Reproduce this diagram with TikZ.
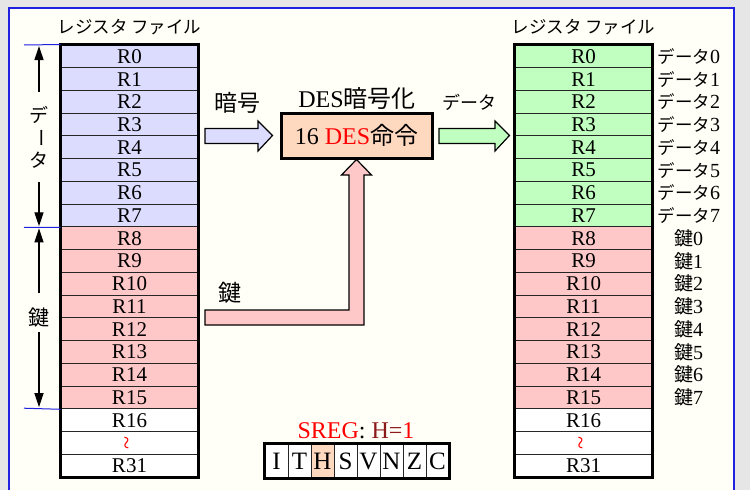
\documentclass[tikz,border=0pt]{standalone}
\usepackage{fontspec}
\setmainfont{Liberation Serif}
\newfontfamily\jp{Noto Sans CJK JP}
\usetikzlibrary{arrows.meta,calc}
\definecolor{bggray}{HTML}{E6E6E6}
\definecolor{panelc}{HTML}{FFFFF7}
\definecolor{lav}{HTML}{DCDCFF}
\definecolor{pinkc}{HTML}{FFC8C8}
\definecolor{greenc}{HTML}{C0FFC0}
\definecolor{peach}{HTML}{FFD8C0}
\definecolor{darkred}{HTML}{8B1A1A}
\definecolor{panelblue}{HTML}{2020E0}
\newcommand\fsz[1]{\fontsize{#1}{#1}\selectfont}
\begin{document}
\begin{tikzpicture}[x=1pt,y=-1pt,
  regrow/.style={draw=black!85, line width=1pt, minimum width=137pt, minimum height=22.737pt, inner sep=0pt, font=\fsz{21}},
  flagcell/.style={draw=black!85, line width=0.8pt, minimum width=23pt, minimum height=34pt, inner sep=0pt, font=\fsz{25}},
  jlabel/.style={font=\jp\fsz{17.5}, inner sep=0pt},
  dimline/.style={panelblue, line width=1pt},
  dimarrow/.style={-{Triangle[length=14pt,width=9pt]}, line width=1.3pt},
  blockarrow/.style={draw=black, line width=1.2pt}]
\useasboundingbox (0,0) rectangle (750,490);
\fill[bggray] (0,0) rectangle (750,490);
\draw[panelblue, line width=1.5pt, fill=panelc] (9,8) rectangle (734,500);

% register files
\foreach \i in {0,...,18} {
  \pgfmathsetmacro\yy{45+(\i+0.5)*22.737}
  \ifnum\i<8 \def\fl{lav}\def\fr{greenc}\else\ifnum\i<16 \def\fl{pinkc}\def\fr{pinkc}\else\def\fl{white}\def\fr{white}\fi\fi
  \ifnum\i<17 \def\lab{R\i}\else\ifnum\i=17 \def\lab{}\else\def\lab{R31}\fi\fi
  \node[regrow, fill=\fl] (L\i) at (129.5,\yy) {\lab};
  \node[regrow, fill=\fr] (R\i) at (583.5,\yy) {\lab};
}
\node[rotate=90, red, font=\fsz{24}, inner sep=0pt] (tl) at (L17.center) {\textasciitilde};
\node[rotate=90, red, font=\fsz{24}, inner sep=0pt] (tr) at (R17.center) {\textasciitilde};
\draw[line width=3pt] (L0.north west) rectangle (L18.south east);
\draw[line width=3pt] (R0.north west) rectangle (R18.south east);

\node[jlabel] (titleL) at (129.5,27) {レジスタ ファイル};
\node[jlabel] (titleR) at (583.5,27) {レジスタ ファイル};

% right labels
\foreach \i in {0,...,7} {
  \node[jlabel, anchor=west] (dl\i) at ($(R\i.east)+(5,0)$) {データ\fsz{20}\rmfamily\i};
}
\foreach \i/\k in {8/0,9/1,10/2,11/3,12/4,13/5,14/6,15/7} {
  \node[jlabel, font=\jp\fsz{19}] (kl\i) at ($(R\i.east)+(36,0)$) {鍵\fsz{20}\rmfamily\k};
}

% left dimension
\coordinate (c0) at (24,45);
\coordinate (c1) at (24,227.3);
\coordinate (c2) at (24,408.2);
\draw[dimline] (c0) -- (L0.north west);
\draw[dimline] (c1) -- (L7.south west);
\draw[dimline] (c2) -- (L15.south west);
\node[jlabel, font=\jp\fsz{19}] (vd) at (39,115) {デ};
\node[jlabel, font=\jp\fsz{19}, rotate=-90] (vb) at (39,138) {ー};
\node[jlabel, font=\jp\fsz{19}] (vt) at (39,160) {タ};
\draw[dimarrow] (39,92) -- (39,46);
\draw[dimarrow] (39,182) -- (39,226.3);
\node[jlabel, font=\jp\fsz{21}] (vk) at (39,317.5) {鍵};
\draw[dimarrow] (39,293) -- (39,228.3);
\draw[dimarrow] (39,332) -- (39,407.2);

% DES box
\node[draw, line width=3pt, fill=peach, minimum width=151pt, minimum height=45pt, inner sep=0pt, font=\fsz{24}] (des) at (356.5,135.5) {16 \textcolor{red}{DES}{\jp 命令}};
\node[font=\fsz{24}, inner sep=0pt] (destitle) at (357,98) {DES{\jp 暗号化}};

% input arrow (cipher)
\draw[blockarrow, fill=lav] (205,128.5) -- (258,128.5) -- (258,121) -- ($(des.west)+(-7,0)$) -- (258,151) -- (258,143.5) -- (205,143.5) -- cycle;
\node[jlabel, font=\jp\fsz{23}] (ango) at (237,103) {暗号};

% output arrow (data)
\draw[blockarrow, fill=greenc] (439,128.5) -- (495,128.5) -- (495,121) -- ($(R4.north west)+(-5,0)$) -- (495,151) -- (495,143.5) -- (439,143.5) -- cycle;
\node[jlabel, font=\jp\fsz{18}] (data) at (469,102) {データ};

% key arrow
\draw[blockarrow, fill=pinkc] (205,310) -- (349,310) -- (349,175) -- (341.5,175) -- (des.south) -- (371.5,175) -- (364,175) -- (364,325) -- (205,325) -- cycle;
\node[jlabel, font=\jp\fsz{23}] (kagi) at (230,293) {鍵};

% SREG
\node[font=\fsz{24}, inner sep=0pt] (sreg) at (356,431) {\textcolor{red}{SREG}: \textcolor{darkred}{H=}\textcolor{red}{1}};
\foreach \f [count=\k from 0] in {I,T,H,S,V,N,Z,C} {
  \ifnum\k=2 \def\fc{peach}\else\def\fc{white}\fi
  \node[flagcell, fill=\fc] (f\k) at (276.5+\k*23,461) {\f};
}
\draw[line width=3pt] (f0.north west) rectangle (f7.south east);
\end{tikzpicture}
\end{document}
